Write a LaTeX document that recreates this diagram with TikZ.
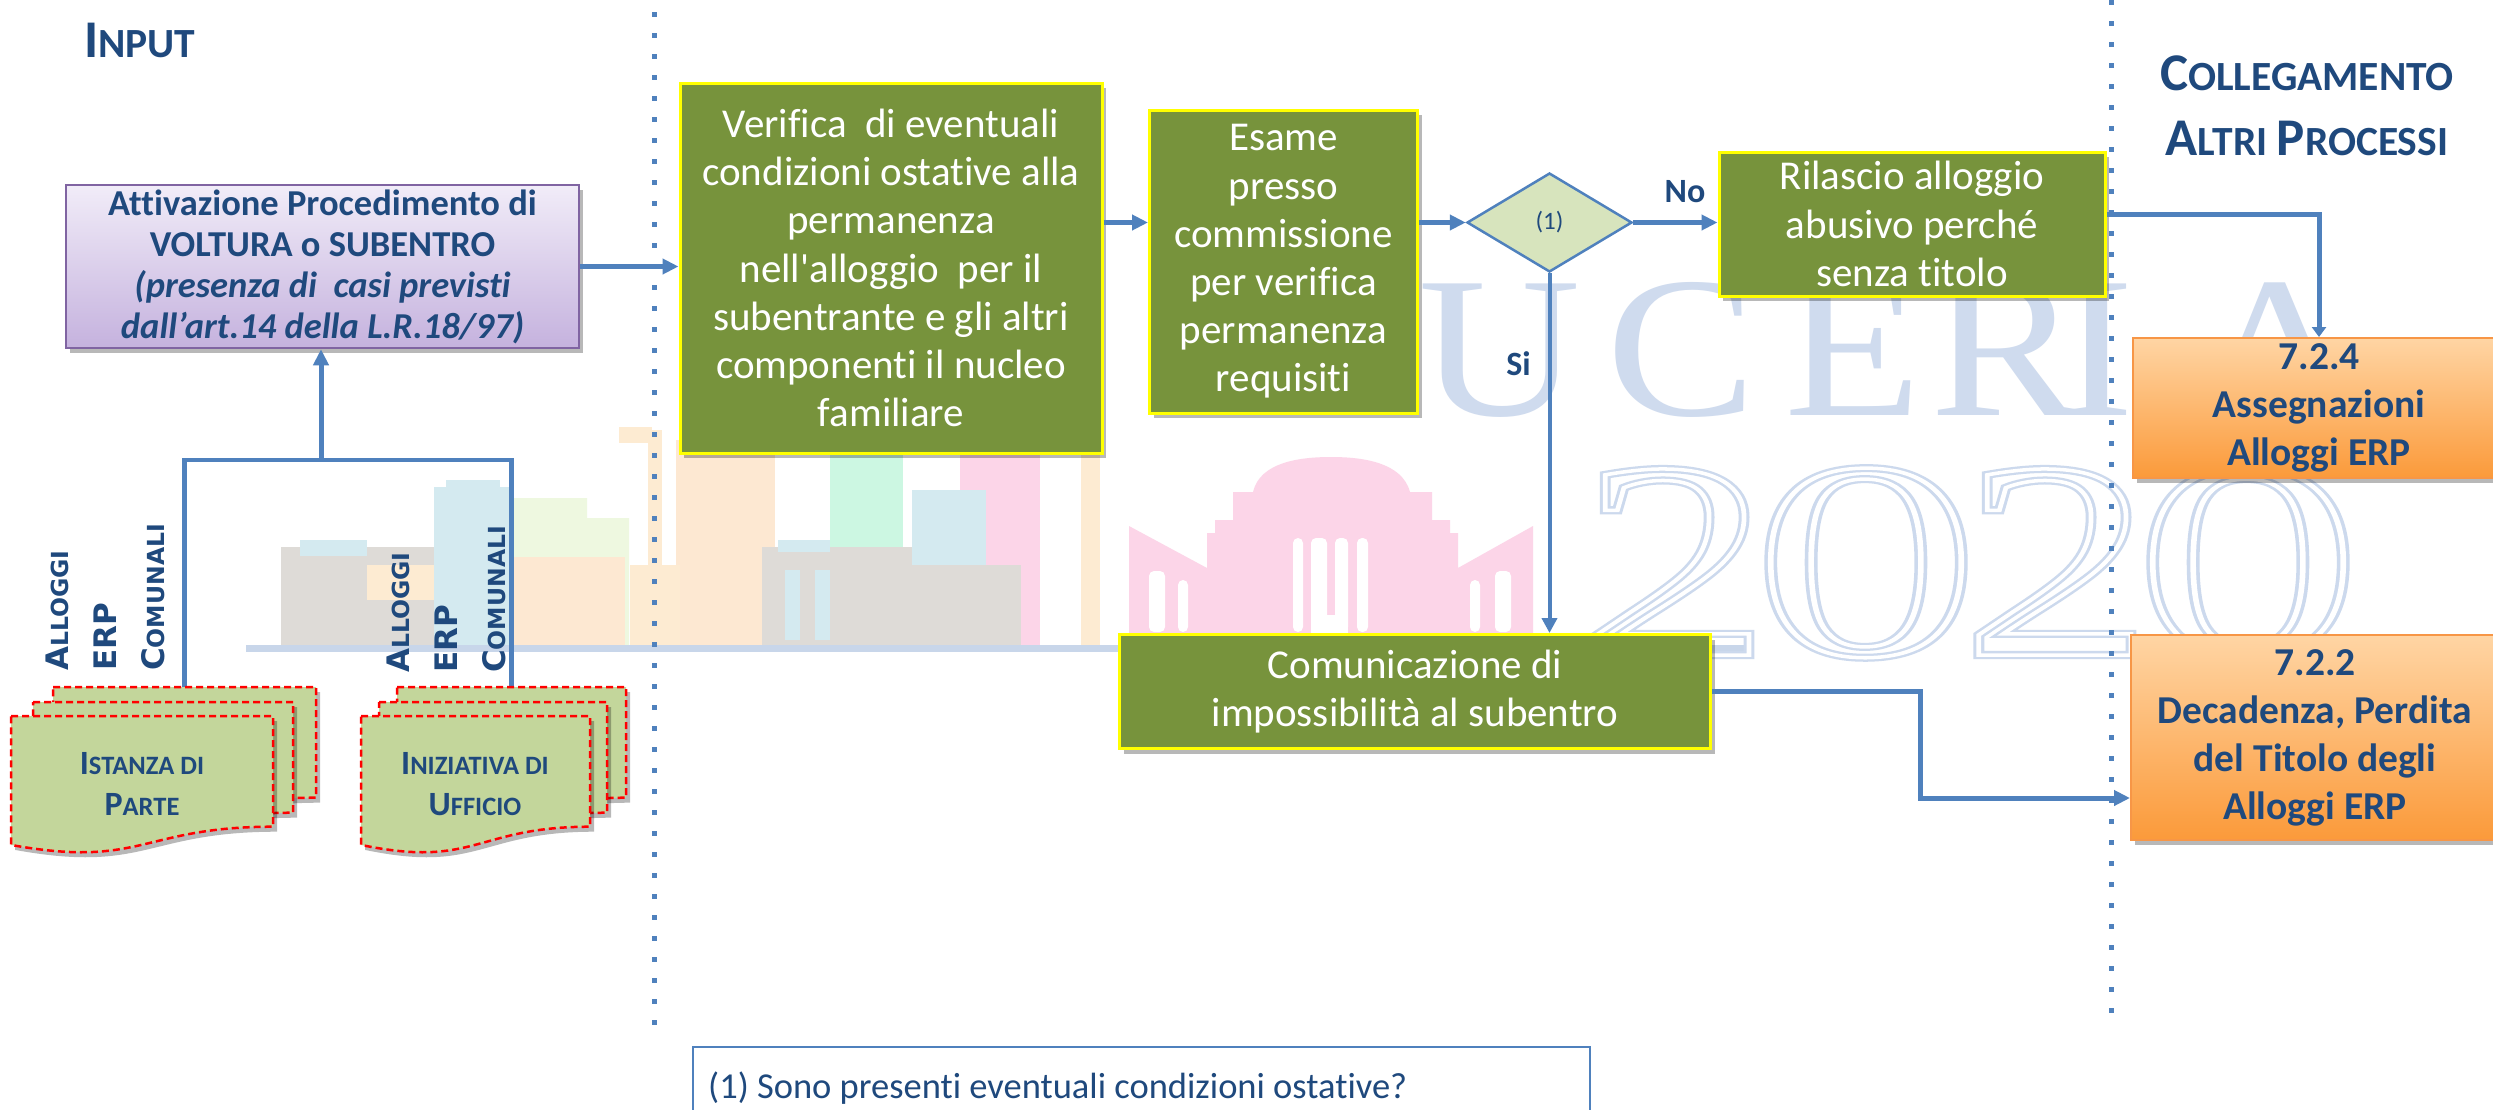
\documentclass[tikz,border=0pt]{standalone}
\usepackage{graphicx}
\usepackage{fontspec}
\setmainfont{Carlito}[Ligatures={TeX,NoCommon}]
\newfontfamily\labfont{DejaVu Sans}
\newfontfamily\wmfont{Liberation Serif}
\usetikzlibrary{arrows.meta,shapes.geometric,shadows,calc}

\definecolor{navy}{HTML}{1F497D}
\definecolor{flow}{HTML}{4F81BD}
\definecolor{olive}{HTML}{77933C}
\definecolor{lemon}{HTML}{FFFF00}
\definecolor{lilacTop}{HTML}{F1ECF8}
\definecolor{lilacBot}{HTML}{C5B2DE}
\definecolor{lilacLine}{HTML}{8064A2}
\definecolor{peachTop}{HTML}{FFD5A4}
\definecolor{peachBot}{HTML}{FB9A3A}
\definecolor{peachLine}{HTML}{F79646}
\definecolor{paper}{HTML}{C3D69B}
\definecolor{sage}{HTML}{D7E4BD}
\definecolor{wm}{HTML}{CFDBEE}
\definecolor{skyGray}{HTML}{DEDBD7}
\definecolor{skyBlue}{HTML}{D4EAF0}
\definecolor{skyGreen}{HTML}{EEF8E0}
\definecolor{skyPeach}{HTML}{FDE8D2}
\definecolor{skyMint}{HTML}{CCF7E2}
\definecolor{skyPink}{HTML}{FCD5E8}
\definecolor{skyBeige}{HTML}{FDEBD2}
\definecolor{skyBar}{HTML}{C8D6EA}

% fake small caps
\newcommand\ttlbig{\fontsize{53}{66}\selectfont}
\newcommand\ttlsmall{\fontsize{41.5}{66}\selectfont}
\newcommand\docbig{\fontsize{34}{41}\selectfont}
\newcommand\docsmall{\fontsize{26.5}{41}\selectfont}
\newcommand\labbig{\fontsize{31}{48}\selectfont}
\newcommand\labsmall{\fontsize{23.5}{48}\selectfont}
\newcommand\wmletter{\wmfont\fontsize{201}{201}\selectfont}
\newcommand\wmdigit{\wmfont\fontsize{281}{281}\selectfont}
% outlined glyphs: stroke width and stroke colour given as pdf operands
\newcommand\strokedtext[2]{\special{pdf:literal direct 1 Tr #1 w #2 RG}}
\newcommand\filledtext{\special{pdf:literal direct 0 Tr}}

\tikzset{
  flowline/.style={draw=flow, line width=5pt},
  flowarrow/.style={flowline, -{Triangle[length=16pt,width=15pt]}},
  thinarrow/.style={draw=flow, line width=4pt, -{Triangle[length=15pt,width=15pt]}},
  dotline/.style={draw=flow, line width=5pt, dash pattern=on 5pt off 16pt},
  softshadow/.style={drop shadow={shadow xshift=4pt, shadow yshift=-5pt, opacity=0.28, fill=black}},
  greenbox/.style={rectangle, fill=olive, draw=lemon, line width=3pt, text=white,
    align=center, inner sep=0pt, font=\fontsize{41}{48.2}\selectfont, softshadow},
  orangebox/.style={rectangle, top color=peachTop, bottom color=peachBot, draw=peachLine,
    line width=2pt, text=navy, align=center, inner sep=0pt,
    font=\bfseries\fontsize{39.5}{48}\selectfont, softshadow},
  lilacbox/.style={rectangle, top color=lilacTop, bottom color=lilacBot, draw=lilacLine,
    line width=2.5pt, text=navy, align=center, inner sep=0pt,
    font=\bfseries\fontsize{36.5}{41}\selectfont, softshadow},
  decision/.style={diamond, fill=sage, draw=flow, line width=2.5pt, text=navy,
    inner sep=0pt, font=\fontsize{25}{30}\selectfont},
  docpage/.style={fill=paper, draw=red, line width=2.5pt, dash pattern=on 7pt off 4pt, softshadow},
  doctext/.style={text=navy, align=center, inner sep=0pt, font=\bfseries\fontsize{34}{41}\selectfont},
  vlabel/.style={rotate=90, align=left, inner sep=0pt, text=navy,
    font=\labfont\bfseries\fontsize{31}{48}\selectfont},
  title/.style={text=navy, inner sep=0pt, font=\bfseries},
  tag/.style={text=navy, inner sep=0pt, font=\bfseries\fontsize{34}{41}\selectfont},
  wmtext/.style={text=wm, inner sep=0pt, anchor=base},
}

\begin{document}
\begin{tikzpicture}[x=1pt,y=-1pt]
\clip (0,0) rectangle (2493,1109);
\fill[white] (0,0) rectangle (2493,1109);

% ---------- background emblem: skyline ----------
\fill[skyPeach] (676,440) rectangle (775,645);
\fill[skyMint] (830,440) rectangle (903,645);
\fill[skyPink] (960,440) rectangle (1040,645);
\fill[skyBeige] (1081,440) rectangle (1100,645);
\fill[skyGray] (281,547) rectangle (470,645);
\fill[skyBlue] (300,540) rectangle (367,556);
\fill[skyBeige] (367,565) rectangle (434,600);
\fill[skyBlue] (434,487) rectangle (511,645);
\fill[skyBlue] (446,480) rectangle (500,487);
\fill[skyGreen] (514,498) -- (587,498) -- (587,518) -- (629,518) -- (629,645) -- (514,645) -- cycle;
\fill[skyPeach] (511,557) rectangle (625,645);
\fill[skyBeige] (619,427) rectangle (652,443);
\fill[skyBeige] (648,430) rectangle (662,645);
\fill[skyBeige] (630,565) rectangle (680,645);
\fill[skyGray] (762,547) rectangle (922,645);
\fill[skyBlue] (778,540) rectangle (830,552);
\fill[skyBlue] (912,490) rectangle (986,645);
\fill[skyGray] (858,565) rectangle (1021,645);
\fill[skyBlue] (785,570) rectangle (800,640);
\fill[skyBlue] (815,570) rectangle (830,640);
% domed building
\fill[skyPink] (1129,526) -- (1207,568) -- (1207,533) -- (1215,533) -- (1215,520) -- (1233,520)
  -- (1233,492) -- (1253,492) .. controls (1260,462) and (1300,457) .. (1331,457)
  .. controls (1362,457) and (1402,462) .. (1410,492) -- (1432,492) -- (1432,520)
  -- (1450,520) -- (1450,533) -- (1458,533) -- (1458,568) -- (1533,526) -- (1533,645)
  -- (1129,645) -- cycle;
\foreach \xa/\xb/\ya in {1293/1303/538, 1311/1327/538, 1335/1348/538, 1357/1368/538,
  1149/1165/571, 1178/1188/580, 1470/1480/580, 1495/1511/571}
  \fill[white, rounded corners=5pt] (\xa,\ya) rectangle (\xb,632);
\fill[white] (1311,615) rectangle (1348,645);
\fill[skyBar] (246,645) rectangle (1754,652);

% ---------- background emblem: lettering ----------
\foreach \cx/\ch in {1500/U, 1682/C, 1853/E, 2006/R, 2097/I, 2277/A}
  \node[wmtext] (wm\ch) at (\cx,415) {\scalebox{1.12}[1]{\wmletter \ch}};
\foreach \cx/\dg/\sx [count=\k] in {1675/2/1.35, 1866/0/1.6, 2057/2/1.35, 2248/0/1.6}{
  \node[wmtext] (wmd\k) at (\cx,655)
    {\strokedtext{8}{0.80 0.85 0.93}\scalebox{\sx}[1]{\wmdigit \dg}\filledtext};
  \node[wmtext] (wmi\k) at (\cx,655)
    {\strokedtext{3.5}{1 1 1}\scalebox{\sx}[1]{\wmdigit \dg}\filledtext};
}

% ---------- section separators ----------
\coordinate (sepLtop) at (654,12);
\coordinate (sepLbot) at (654,1030);
\coordinate (sepRtop) at (2111,0);
\coordinate (sepRbot) at (2111,1017);
\draw[dotline] (sepLtop) -- (sepLbot);
\draw[dotline] (sepRtop) -- (sepRbot);

% ---------- titles ----------
\node[title, anchor=base west] (tInput) at (84,57) {\ttlbig I\ttlsmall NPUT};
\node[title, anchor=base] (tColl) at (2307,90) {\ttlbig C\ttlsmall OLLEGAMENTO};
\node[title, anchor=base] (tAltri) at (2307,155) {\ttlbig A\ttlsmall LTRI \ttlbig P\ttlsmall ROCESSI};

% ---------- input documents ----------
\coordinate (istTop) at (184.5,687);
\coordinate (inizTop) at (511.5,687);
\coordinate (join) at (321,460);
\draw[flowline, line width=4.5pt] (istTop) |- (join);
\draw[flowline, line width=4.5pt] (inizTop) |- (join);

\path[docpage] (53,687) -- (316,687) -- (316,797.7) .. controls (184.5,797.7) and (184.5,839.8) .. (53,815.9) -- cycle;
\path[docpage] (33,702) -- (293,702) -- (293,812.7) .. controls (163,812.7) and (163,854.8) .. (33,830.9) -- cycle;
\path[docpage] (11,716) -- (273,716) -- (273,826.7) .. controls (142,826.7) and (142,868.8) .. (11,844.9) -- cycle;
\path[docpage] (397,687) -- (626,687) -- (626,797.7) .. controls (511.5,797.7) and (511.5,839.8) .. (397,815.9) -- cycle;
\path[docpage] (379,702) -- (607,702) -- (607,812.7) .. controls (493,812.7) and (493,854.8) .. (379,830.9) -- cycle;
\path[docpage] (361,716) -- (590,716) -- (590,826.7) .. controls (475.5,826.7) and (475.5,868.8) .. (361,844.9) -- cycle;

\node[doctext] (istText) at (142,784) {\docbig I\docsmall STANZA DI\\\docbig P\docsmall ARTE};
\node[doctext] (inizText) at (475,784) {\docbig I\docsmall NIZIATIVA DI\\\docbig U\docsmall FFICIO};

\node[vlabel, anchor=north west] (labA) at (46,671)
  {\labbig A\labsmall LLOGGI\\\labbig ERP\\\labbig C\labsmall OMUNALI};
\node[vlabel, anchor=north west] (labB) at (387,673)
  {\labbig A\labsmall LLOGGI\\\labbig ERP\\\labbig C\labsmall OMUNALI};

% ---------- process boxes ----------
\node[lilacbox, minimum width=513, minimum height=163] (attiv) at (322.5,266.5)
  {Attivazione Procedimento di\\VOLTURA o SUBENTRO\\\itshape(presenza di \ casi previsti\\\itshape dall’art.14 della L.R.18/97)};

\node[greenbox, minimum width=422, minimum height=370] (verif) at (891,268)
  {Verifica \ di eventuali\\condizioni ostative alla\\permanenza\\nell\textquotesingle alloggio \ per il\\subentrante e gli altri\\componenti il nucleo\\familiare};

\node[greenbox, minimum width=268, minimum height=303] (esame) at (1283.5,261.5)
  {Esame\\presso\\commissione\\per verifica\\permanenza\\requisiti};

\node[decision, minimum width=165, minimum height=99] (dec) at (1549.5,222.5) {(1)};

\node[greenbox, minimum width=386, minimum height=144] (rilascio) at (1912,224)
  {Rilascio alloggio\\abusivo perché\\senza titolo};

\node[greenbox, minimum width=591, minimum height=114] (comunic) at (1415,691.5)
  {Comunicazione di\\impossibilità al subentro};

\node[orangebox, minimum width=372, minimum height=140] (a724) at (2319,408)
  {7.2.4\\Assegnazioni\\Alloggi ERP};

\node[orangebox, minimum width=368, minimum height=205] (a722) at (2315,737.5)
  {7.2.2\\Decadenza, Perdita\\del Titolo degli\\Alloggi ERP};

% ---------- connectors ----------
\draw[flowarrow] (join) -- (join |- attiv.south);
\draw[flowarrow] (attiv.east) -- (attiv.east -| verif.west);
\draw[flowarrow] (verif.east |- dec.west) -- (esame.west |- dec.west);
\draw[flowarrow] (esame.east |- dec.west) -- (dec.west);
\draw[flowarrow] (dec.east) -- (dec.east -| rilascio.west);
\draw[flowline, -{Triangle[length=10pt,width=14pt]}] ([yshift=10pt]rilascio.east) -| (a724.north);
\draw[thinarrow] (dec.south) -- (dec.south |- comunic.north);
\coordinate (bend) at (1920,798);
\draw[flowarrow] (comunic.east) -| (bend) -- (bend -| a722.west);

\node[tag, anchor=base] (lblNo) at (1685,202) {No};
\node[tag, anchor=base] (lblSi) at (1518.5,375) {Si};

% ---------- footnote ----------
\node[draw=flow, line width=2pt, fill=white, minimum width=897, minimum height=90,
  anchor=north west, inner sep=0pt] (note) at (692,1046) {};
\node[anchor=base west, inner sep=0pt, text=navy, font=\fontsize{36.5}{41}\selectfont]
  (noteText) at (708,1098) {(1) Sono presenti eventuali condizioni ostative?};
\end{tikzpicture}
\end{document}
